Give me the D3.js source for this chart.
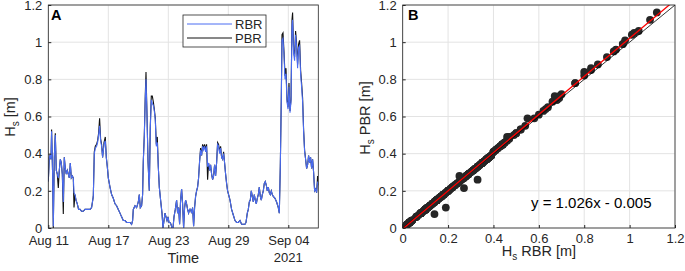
<!DOCTYPE html>
<html>
  <head>
    <title>Hs RBR vs PBR</title>
    <style>
      body { margin: 0; background: #fff; }
      svg { font-family: 'Liberation Sans', Arial, sans-serif; }
    </style>
  </head>
  <body>
    <svg id="svg" width="685" height="271"></svg>
    <script src="https://cdn.jsdelivr.net/npm/d3@7"></script>
    <script>
      // days since 2021-08-11 00:00
      const hsDays = [
        0.00,0.10,0.17,0.27,0.33,0.43,0.50,0.60,0.70,0.80,
        0.90,1.00,1.10,1.20,1.30,1.40,1.50,1.60,1.70,1.80,
        1.90,2.00,2.10,2.20,2.30,2.40,2.50,2.57,2.67,2.77,
        2.90,3.03,3.17,3.33,3.50,3.67,3.83,4.00,4.17,4.33,
        4.50,4.60,4.70,4.83,4.93,5.03,5.13,5.23,5.33,5.43,
        5.57,5.70,5.80,5.90,6.00,6.17,6.33,6.50,6.67,6.83,
        7.00,7.17,7.33,7.50,7.67,7.83,8.00,8.17,8.33,8.43,
        8.50,8.67,8.83,9.00,9.10,9.20,9.33,9.43,9.50,9.60,
        9.70,9.77,9.87,9.97,10.10,10.20,10.30,10.40,10.50,10.60,
        10.70,10.80,10.90,11.00,11.10,11.23,11.37,11.47,11.57,11.67,
        11.77,11.87,11.97,12.07,12.17,12.27,12.37,12.47,12.57,12.70,
        12.83,12.93,13.03,13.13,13.23,13.33,13.43,13.53,13.63,13.73,
        13.83,13.93,14.03,14.13,14.23,14.33,14.43,14.53,14.63,14.73,
        14.83,14.93,15.03,15.13,15.23,15.33,15.43,15.53,15.63,15.73,
        15.83,15.93,16.03,16.13,16.23,16.33,16.43,16.53,16.63,16.73,
        16.83,16.93,17.03,17.13,17.23,17.33,17.43,17.53,17.63,17.73,
        17.83,17.93,18.03,18.17,18.33,18.50,18.67,18.83,19.00,19.17,
        19.33,19.50,19.67,19.77,19.90,20.00,20.10,20.20,20.30,20.40,
        20.50,20.60,20.70,20.80,20.90,21.00,21.10,21.20,21.30,21.40,
        21.50,21.60,21.70,21.80,21.90,22.00,22.10,22.20,22.30,22.40,
        22.50,22.67,22.83,23.00,23.10,23.20,23.30,23.37,23.47,23.57,
        23.67,23.77,23.87,23.97,24.07,24.17,24.27,24.37,24.43,24.53,
        24.63,24.73,24.83,24.93,25.03,25.13,25.23,25.33,25.43,25.53,
        25.63,25.73,25.83,25.93,26.03,26.13,26.23,26.33,26.43,26.53,
        26.63,26.73,26.83,26.93,27.00
      ];
      const hsRBR = [
        0.25,0.38,0.39,0.37,0.52,0.29,0.01,0.38,0.50,0.31,
        0.29,0.27,0.31,0.37,0.35,0.29,0.14,0.38,0.32,0.29,
        0.31,0.29,0.27,0.35,0.27,0.28,0.27,0.19,0.18,0.15,
        0.13,0.10,0.10,0.09,0.09,0.10,0.10,0.10,0.10,0.11,
        0.17,0.40,0.43,0.44,0.46,0.50,0.55,0.47,0.44,0.38,
        0.45,0.47,0.38,0.33,0.27,0.22,0.18,0.16,0.13,0.12,
        0.10,0.08,0.06,0.04,0.04,0.03,0.03,0.03,0.02,0.04,
        0.10,0.12,0.11,0.14,0.18,0.11,0.12,0.18,0.36,0.49,
        0.70,0.80,0.60,0.36,0.20,0.54,0.69,0.67,0.66,0.63,
        0.58,0.44,0.46,0.33,0.22,0.15,0.08,0.00,0.04,0.08,
        0.06,0.04,0.06,0.03,0.03,0.02,0.00,0.00,0.06,0.10,
        0.15,0.08,0.11,0.02,0.15,0.21,0.13,0.00,0.11,0.15,
        0.13,0.10,0.08,0.10,0.10,0.08,0.11,0.01,0.11,0.17,
        0.20,0.22,0.27,0.36,0.42,0.39,0.44,0.42,0.44,0.41,
        0.44,0.33,0.35,0.31,0.34,0.29,0.26,0.28,0.34,0.28,
        0.35,0.45,0.44,0.40,0.43,0.38,0.37,0.40,0.35,0.29,
        0.24,0.20,0.18,0.15,0.10,0.07,0.04,0.03,0.03,0.04,
        0.02,0.02,0.02,0.03,0.08,0.10,0.14,0.15,0.20,0.17,
        0.14,0.18,0.15,0.13,0.16,0.18,0.22,0.17,0.15,0.18,
        0.20,0.24,0.25,0.23,0.20,0.22,0.19,0.18,0.20,0.18,
        0.17,0.16,0.14,0.11,0.08,0.33,0.69,1.01,1.02,0.93,
        0.80,0.83,0.68,0.64,0.76,0.62,0.68,1.09,1.12,0.94,
        0.90,1.04,0.97,0.86,0.97,0.98,0.83,0.76,0.68,0.52,
        0.41,0.37,0.32,0.34,0.39,0.35,0.38,0.32,0.37,0.30,
        0.20,0.21,0.19,0.25,0.23
      ];
      const hsPBR = [
        0.25,0.38,0.39,0.37,0.53,0.29,0.00,0.38,0.51,0.31,
        0.29,0.215,0.31,0.37,0.35,0.29,0.075,0.38,0.32,0.29,
        0.31,0.29,0.27,0.35,0.27,0.28,0.27,0.11,0.18,0.15,
        0.13,0.10,0.10,0.09,0.09,0.10,0.10,0.10,0.10,0.11,
        0.17,0.41,0.44,0.45,0.47,0.51,0.59,0.48,0.45,0.38,
        0.46,0.49,0.38,0.33,0.27,0.22,0.18,0.16,0.13,0.12,
        0.10,0.08,0.06,0.04,0.04,0.03,0.03,0.03,0.02,0.04,
        0.10,0.12,0.11,0.14,0.18,0.11,0.12,0.18,0.36,0.50,
        0.72,0.84,0.61,0.36,0.20,0.55,0.71,0.71,0.68,0.64,
        0.59,0.45,0.49,0.33,0.22,0.15,0.08,0.00,0.04,0.08,
        0.06,0.04,0.06,0.03,0.03,0.02,0.00,0.00,0.06,0.10,
        0.15,0.08,0.11,0.02,0.15,0.21,0.13,0.00,0.11,0.15,
        0.13,0.10,0.08,0.10,0.10,0.08,0.11,0.01,0.11,0.17,
        0.20,0.22,0.27,0.36,0.43,0.39,0.45,0.43,0.45,0.42,
        0.45,0.26,0.35,0.31,0.34,0.29,0.26,0.28,0.34,0.28,
        0.35,0.46,0.45,0.41,0.44,0.38,0.37,0.41,0.35,0.29,
        0.24,0.20,0.18,0.15,0.10,0.07,0.04,0.03,0.03,0.04,
        0.02,0.02,0.02,0.03,0.08,0.10,0.14,0.15,0.20,0.17,
        0.14,0.18,0.15,0.13,0.16,0.18,0.22,0.17,0.15,0.18,
        0.20,0.24,0.25,0.23,0.20,0.22,0.19,0.18,0.20,0.18,
        0.17,0.16,0.14,0.11,0.08,0.33,0.70,1.04,1.05,0.95,
        0.82,0.86,0.69,0.65,0.78,0.63,0.69,1.12,1.16,0.96,
        0.92,1.06,0.99,0.88,0.99,1.01,0.85,0.78,0.70,0.53,
        0.42,0.37,0.32,0.34,0.39,0.35,0.38,0.32,0.37,0.30,
        0.20,0.21,0.19,0.28,0.23
      ];
      const timeTicks = ['2021-08-11', '2021-08-17', '2021-08-23', '2021-08-29', '2021-09-04'];
      const hsTicks = [0, 0.2, 0.4, 0.6, 0.8, 1, 1.2];
      const fitSlope = 1.026;
      const fitIntercept = -0.005;
      const fitLabel = 'y = 1.026x - 0.005';

      const axisColor = '#262626';
      const gridColor = '#e3e3e3';
      const blue = '#4a6cf2';

      const svg = d3.select('#svg');
      const plotTop = 5;
      const plotBottom = 228;

      const start = new Date('2021-08-11T00:00:00Z');
      const series = hsDays.map((d, i) => ({
        t: new Date(start.getTime() + d * 864e5),
        rbr: hsRBR[i],
        pbr: hsPBR[i],
      }));

      const styleAxis = (g) => {
        g.select('.domain').remove();
        g.selectAll('.tick line').attr('stroke', axisColor);
        g.selectAll('.tick text').attr('fill', axisColor).attr('font-size', 13);
      };

      // ---------- panel A ----------
      const xA = d3.scaleUtc()
        .domain([start, new Date('2021-09-07T00:00:00Z')])
        .range([48.3, 318.3]);
      const yA = d3.scaleLinear().domain([0, 1.2]).range([plotBottom, plotTop]);
      const tickDates = timeTicks.map((s) => new Date(s + 'T00:00:00Z'));

      const gA = svg.append('g');
      gA.selectAll('.gx').data(tickDates).join('line')
        .attr('x1', (d) => xA(d)).attr('x2', (d) => xA(d))
        .attr('y1', plotTop).attr('y2', plotBottom)
        .attr('stroke', gridColor);
      gA.selectAll('.gy').data(hsTicks).join('line')
        .attr('x1', 48.3).attr('x2', 318.3)
        .attr('y1', (d) => yA(d)).attr('y2', (d) => yA(d))
        .attr('stroke', gridColor);

      gA.append('defs').append('clipPath').attr('id', 'clipA')
        .append('rect').attr('x', 48.3).attr('y', plotTop).attr('width', 270).attr('height', plotBottom - plotTop);

      const lineA = (key) => d3.line().x((d) => xA(d.t)).y((d) => yA(d[key]));
      gA.append('path').datum(series)
        .attr('clip-path', 'url(#clipA)')
        .attr('d', lineA('pbr'))
        .attr('fill', 'none').attr('stroke', '#111').attr('stroke-width', 1.1);
      gA.append('path').datum(series)
        .attr('clip-path', 'url(#clipA)')
        .attr('d', lineA('rbr'))
        .attr('fill', 'none').attr('stroke', blue).attr('stroke-width', 1.1);

      gA.append('g').attr('transform', `translate(0,${plotBottom})`)
        .call(d3.axisBottom(xA).tickValues(tickDates).tickFormat(d3.utcFormat('%b %d'))
          .tickSizeInner(-3).tickSizeOuter(0).tickPadding(8))
        .call(styleAxis);
      gA.append('g').attr('transform', 'translate(48.3,0)')
        .call(d3.axisLeft(yA).tickValues(hsTicks).tickFormat(d3.format('~g'))
          .tickSizeInner(-3).tickSizeOuter(0).tickPadding(6))
        .call(styleAxis);
      gA.append('rect').attr('x', 48.3).attr('y', plotTop).attr('width', 270).attr('height', plotBottom - plotTop)
        .attr('fill', 'none').attr('stroke', axisColor).attr('stroke-width', 0.8);

      gA.append('text').attr('x', xA(tickDates[4])).attr('y', 262)
        .attr('text-anchor', 'middle').attr('font-size', 13).attr('fill', axisColor).text('2021');
      gA.append('text').attr('x', 183.3).attr('y', 263)
        .attr('text-anchor', 'middle').attr('font-size', 14.5).attr('fill', axisColor).text('Time');
      const ylabA = gA.append('text').attr('transform', 'translate(15,117) rotate(-90)')
        .attr('text-anchor', 'middle').attr('font-size', 14.5).attr('fill', axisColor);
      ylabA.append('tspan').text('H');
      ylabA.append('tspan').attr('font-size', 10).attr('dy', 4).text('s');
      ylabA.append('tspan').attr('dy', -4).text(' [m]');
      gA.append('text').attr('x', 51).attr('y', 20).attr('font-weight', 'bold')
        .attr('font-size', 14.5).attr('fill', '#000').text('A');

      // legend
      const leg = gA.append('g');
      leg.append('rect').attr('x', 183).attr('y', 15).attr('width', 83).attr('height', 32)
        .attr('fill', '#fff').attr('stroke', axisColor).attr('stroke-width', 0.8);
      [['RBR', blue, 24], ['PBR', '#111', 38]].forEach(([name, col, y]) => {
        leg.append('line').attr('x1', 187).attr('x2', 232).attr('y1', y).attr('y2', y)
          .attr('stroke', col).attr('stroke-width', 1);
        leg.append('text').attr('x', 235).attr('y', y + 4.5).attr('font-size', 13)
          .attr('fill', axisColor).text(name);
      });

      // ---------- panel B ----------
      const xB = d3.scaleLinear().domain([0, 1.2]).range([402.7, 675]);
      const yB = d3.scaleLinear().domain([0, 1.2]).range([plotBottom, plotTop]);
      const gB = svg.append('g');
      gB.selectAll('.gx').data(hsTicks).join('line')
        .attr('x1', (d) => xB(d)).attr('x2', (d) => xB(d))
        .attr('y1', plotTop).attr('y2', plotBottom).attr('stroke', gridColor);
      gB.selectAll('.gy').data(hsTicks).join('line')
        .attr('x1', 402.7).attr('x2', 675)
        .attr('y1', (d) => yB(d)).attr('y2', (d) => yB(d)).attr('stroke', gridColor);

      gB.append('defs').append('clipPath').attr('id', 'clipB')
        .append('rect').attr('x', 402.7).attr('y', plotTop).attr('width', 272.3).attr('height', plotBottom - plotTop);

      gB.append('g').attr('clip-path', 'url(#clipB)')
        .selectAll('circle').data(series).join('circle')
        .attr('cx', (d) => xB(d.rbr)).attr('cy', (d) => yB(d.pbr)).attr('r', 3.9)
        .attr('fill', '#262626');

      gB.append('line').attr('clip-path', 'url(#clipB)')
        .attr('x1', xB(0)).attr('y1', yB(0)).attr('x2', xB(1.2)).attr('y2', yB(1.2))
        .attr('stroke', '#000').attr('stroke-width', 0.8);
      gB.append('line').attr('clip-path', 'url(#clipB)')
        .attr('x1', xB(0)).attr('y1', yB(fitIntercept))
        .attr('x2', xB(1.2)).attr('y2', yB(fitSlope * 1.2 + fitIntercept))
        .attr('stroke', '#ff0000').attr('stroke-width', 1.3);

      gB.append('g').attr('transform', `translate(0,${plotBottom})`)
        .call(d3.axisBottom(xB).tickValues(hsTicks).tickFormat(d3.format('~g'))
          .tickSizeInner(-3).tickSizeOuter(0).tickPadding(6))
        .call(styleAxis);
      gB.append('g').attr('transform', 'translate(402.7,0)')
        .call(d3.axisLeft(yB).tickValues(hsTicks).tickFormat(d3.format('~g'))
          .tickSizeInner(-3).tickSizeOuter(0).tickPadding(6))
        .call(styleAxis);
      gB.append('rect').attr('x', 402.7).attr('y', plotTop).attr('width', 272.3).attr('height', plotBottom - plotTop)
        .attr('fill', 'none').attr('stroke', axisColor).attr('stroke-width', 0.8);

      gB.append('text').attr('x', 531).attr('y', 208).attr('font-size', 15)
        .attr('fill', '#000').text(fitLabel);
      gB.append('text').attr('x', 408).attr('y', 20).attr('font-weight', 'bold')
        .attr('font-size', 14.5).attr('fill', '#000').text('B');

      const xlabB = gB.append('text').attr('x', 539).attr('y', 256)
        .attr('text-anchor', 'middle').attr('font-size', 14.5).attr('fill', axisColor);
      xlabB.append('tspan').text('H');
      xlabB.append('tspan').attr('font-size', 10).attr('dy', 4).text('s');
      xlabB.append('tspan').attr('dy', -4).text(' RBR [m]');
      const ylabB = gB.append('text').attr('transform', 'translate(370,118) rotate(-90)')
        .attr('text-anchor', 'middle').attr('font-size', 14.5).attr('fill', axisColor);
      ylabB.append('tspan').text('H');
      ylabB.append('tspan').attr('font-size', 10).attr('dy', 4).text('s');
      ylabB.append('tspan').attr('dy', -4).text(' PBR [m]');
    </script>
  </body>
</html>
